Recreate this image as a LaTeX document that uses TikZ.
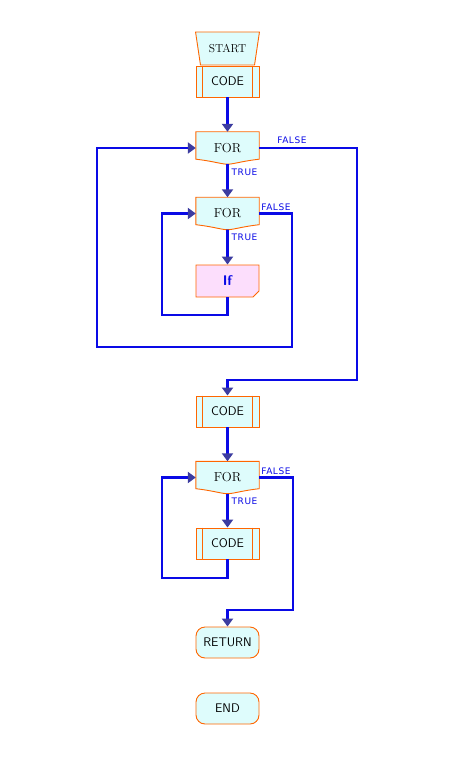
\documentclass[tikz,border=0pt]{standalone}
\usepackage{fontspec}
\newfontfamily\lblfont[LetterSpace=6]{DejaVu Sans}
\usetikzlibrary{positioning,shapes.geometric,shapes.misc,arrows.meta,calc,backgrounds}

\definecolor{boxorange}{RGB}{255,102,0}
\definecolor{boxfill}{RGB}{222,252,252}
\definecolor{iffill}{RGB}{252,222,252}
\definecolor{flowblue}{RGB}{10,10,230}
\definecolor{tipblue}{RGB}{60,60,160}

% FOR block outline, drawn behind the named node
\newcommand{\forshape}[1]{%
    \begin{scope}[on background layer]
        \draw[boxline] (#1.north west) -- (#1.north east) -- ($(#1.south east)+(0,-5)$)
            .. controls ($(#1.south)+(14,-3)$) and ($(#1.south)+(6,0)$) .. (#1.south)
            .. controls ($(#1.south)+(-6,0)$) and ($(#1.south)+(-14,-3)$) .. ($(#1.south west)+(0,-5)$) -- cycle;
    \end{scope}}
% inner bars of a CODE block
\newcommand{\codebars}[1]{%
    \draw[boxline] ($(#1.north west)+(7,0)$) -- ($(#1.south west)+(7,0)$);
    \draw[boxline] ($(#1.north east)+(-7,0)$) -- ($(#1.south east)+(-7,0)$);}

\begin{document}
\begin{tikzpicture}[x=1pt, y=-1pt,
    boxline/.style={draw=boxorange, fill=boxfill, line width=0.9pt},
    codebox/.style={rectangle, boxline, minimum width=63pt, minimum height=31pt, inner sep=0pt, font=\sffamily\fontsize{12.5}{12.5}\selectfont},
    forbox/.style={rectangle, minimum width=63pt, minimum height=32pt, inner sep=0pt, font=\rmfamily\fontsize{13}{13}\selectfont},
    termbox/.style={rectangle, rounded corners=9pt, boxline, minimum width=63pt, minimum height=31pt, inner sep=0pt, font=\sffamily\fontsize{12.5}{12.5}\selectfont},
    startbox/.style={trapezium, shape border rotate=180, trapezium stretches=true, trapezium left angle=68, trapezium right angle=68, boxline, minimum width=64pt, minimum height=33pt, inner sep=0pt, font=\rmfamily\fontsize{11.5}{11.5}\selectfont},
    ifbox/.style={chamfered rectangle, chamfered rectangle corners=south east, chamfered rectangle xsep=3pt, chamfered rectangle ysep=3pt, draw=boxorange, fill=iffill, line width=0.9pt, minimum width=63pt, minimum height=32pt, inner sep=0pt, text=flowblue, font=\sffamily\bfseries\fontsize{14}{14}\selectfont},
    flow/.style={draw=flowblue, line width=2.7pt},
    arr/.style={flow, -{Triangle[width=11pt,length=8pt,color=tipblue]}},
    lbl/.style={inner sep=0pt, text=flowblue, font=\lblfont\fontsize{9}{9}\selectfont}]
    \useasboundingbox (0,0) rectangle (455,759);

    % Start and first code block
    \node[startbox] (start) at (227.5,48.5) {START};
    \node[codebox] (c1) at (227.5,81.5) {CODE};
    \codebars{c1}

    % Outer and inner FOR loops
    \node[forbox] (f1) at (227.5,148) {FOR};
    \node[forbox] (f2) at (227.5,213.5) {FOR};
    \node[ifbox] (cond) at (227.5,281) {If};
    \forshape{f1}
    \forshape{f2}

    % Second code block and FOR loop
    \node[codebox] (c2) at (227.5,411.5) {CODE};
    \codebars{c2}
    \node[forbox] (f3) at (227.5,477.5) {FOR};
    \forshape{f3}
    \node[codebox] (c3) at (227.5,543.5) {CODE};
    \codebars{c3}

    % Return and end
    \node[termbox] (ret) at (227.5,642.5) {RETURN};
    \node[termbox] (stop) at (227.5,708.5) {END};

    % Corners of the loop lines
    \coordinate (k0) at (97,347);
    \coordinate (k1) at (292,347);
    \coordinate (k2) at (162,315);
    \coordinate (k3) at (357,380);
    \coordinate (k4) at (162,578);
    \coordinate (k5) at (293,610);

    % Connectors
    \draw[arr] (c1) -- (f1);
    \draw[arr] (f1) -- (f2);
    \draw[arr] (f2) -- (cond);
    \draw[arr] (cond.south) |- (k2) |- (f2.west);
    \draw[arr] (f2.east) -| (k1) -- (k0) |- (f1.west);
    \draw[arr] (f1.east) -| (k3) -| (c2.north);
    \draw[arr] (c2) -- (f3);
    \draw[arr] (f3) -- (c3);
    \draw[arr] (c3.south) |- (k4) |- (f3.west);
    \draw[arr] (f3.east) -| (k5) -| (ret.north);

    % TRUE / FALSE labels
    \foreach \f in {1,2,3} {
        \node[lbl, anchor=west] (t\f) at ($(f\f.south)+(4,8)$) {TRUE};
    }
    \node[lbl, anchor=west] (n1) at ($(f1.east)+(18,-8)$) {FALSE};
    \node[lbl, anchor=west] (n2) at ($(f2.east)+(2,-6.5)$) {FALSE};
    \node[lbl, anchor=west] (n3) at ($(f3.east)+(2,-6.5)$) {FALSE};
\end{tikzpicture}
\end{document}
